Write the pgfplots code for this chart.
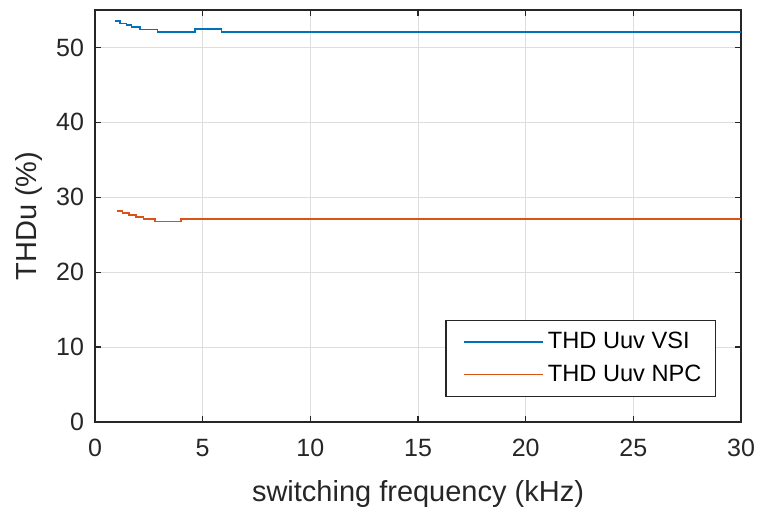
\documentclass[border=0pt]{standalone}
\usepackage{pgfplots}
\pgfplotsset{compat=1.18}
\usepackage{fontspec}
\setmainfont{Liberation Sans}
\definecolor{mblue}{rgb}{0,0.447,0.741}
\definecolor{morange}{rgb}{0.85,0.325,0.098}
\definecolor{axgray}{rgb}{0.15,0.15,0.15}
\begin{document}
\begin{tikzpicture}
\path[use as bounding box] (-47.5pt,-43pt) rectangle (332pt,211pt);
\begin{axis}[
  at={(0,0)}, anchor=south west,
  scale only axis, width=323pt, height=206pt,
  xmin=0, xmax=30, ymin=0, ymax=55,
  xtick={0,5,...,30}, ytick={0,10,...,50},
  grid=major, major grid style={color=black!13, line width=0.5pt},
  axis line style={axgray, line width=0.6pt},
  tick style={axgray, line width=0.6pt}, tick align=inside, major tick length=3pt,
  ticklabel style={font=\fontsize{12.5}{14}\selectfont, text=axgray},
  xticklabel style={yshift=-5pt},
  yticklabel style={xshift=-2pt},
  label style={font=\fontsize{14.5}{16}\selectfont, text=axgray},
  xlabel style={yshift=-5pt},
  xlabel={switching frequency (kHz)}, ylabel={THDu (\%)},
  /pgf/number format/assume math mode=true,
  legend style={at={(1,0)}, anchor=south east, xshift=-12.5pt, yshift=12.5pt,
    draw=axgray, line width=0.6pt, font=\fontsize{11.8}{14}\selectfont, text=black,
    inner xsep=5pt, inner ysep=4pt, row sep=2.5pt},
  legend cell align=left,
  legend image code/.code={\path (0cm,0cm); \draw[#1, line width=0.7pt] (0.12cm,0cm) -- (1.52cm,0cm);},
]
\addplot[const plot, mblue, line width=0.8pt] coordinates {
(0.93,53.5) (1.16,53.2) (1.47,53.0) (1.70,52.7) (2.09,52.4) (2.90,52.1) (4.64,52.5) (5.88,52.1) (30,52.1)
};
\addlegendentry{THD Uuv VSI}
\addplot[const plot, morange, line width=0.8pt] coordinates {
(1.04,28.13) (1.28,27.9) (1.59,27.65) (1.90,27.4) (2.25,27.07) (2.79,26.76) (4.0,27.07) (30,27.07)
};
\addlegendentry{THD Uuv NPC}
\end{axis}
\end{tikzpicture}
\end{document}
